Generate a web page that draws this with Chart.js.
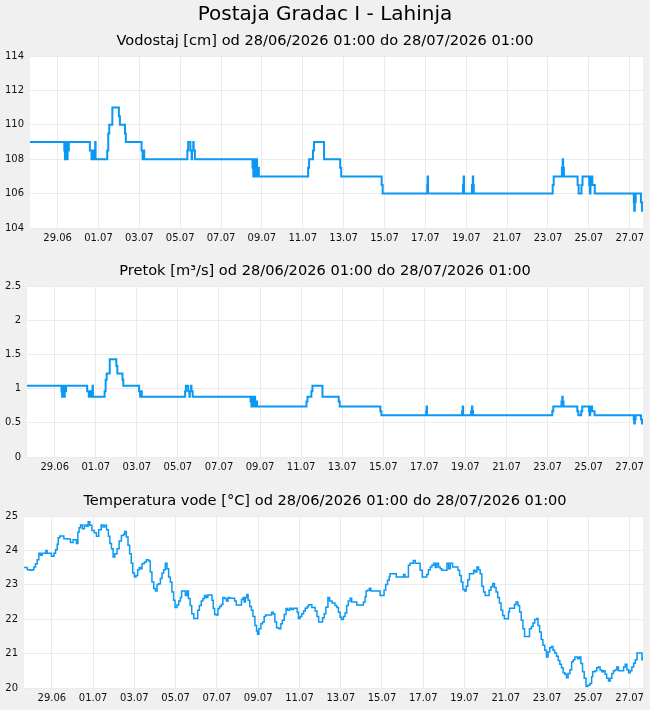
<!DOCTYPE html>
<html>
<head>
<meta charset="utf-8">
<title>Postaja Gradac I - Lahinja</title>
<script src="https://cdn.jsdelivr.net/npm/chart.js@4.4.1/dist/chart.umd.min.js"></script>
<style>
    html, body { margin: 0; padding: 0; background: #f0f0f0; }
    #wrap { position: relative; width: 650px; height: 710px; overflow: hidden; }
    #wrap canvas { position: absolute; left: 0; }
</style>
</head>
<body>
<div id="wrap">
    <canvas id="level-chart" width="650" height="250" style="top:0px"></canvas>
    <canvas id="flow-chart" width="650" height="230" style="top:250px"></canvas>
    <canvas id="temp-chart" width="650" height="230" style="top:480px"></canvas>
</div>
<script>
// Time axis: days counted from 29.06 00:00
const xMin = -1.35;
const xMax = 28.65;
const tickDays = [0, 2, 4, 6, 8, 10, 12, 14, 16, 18, 20, 22, 24, 26, 28];
const tickLabels = ['29.06', '01.07', '03.07', '05.07', '07.07', '09.07', '11.07', '13.07',
    '15.07', '17.07', '19.07', '21.07', '23.07', '25.07', '27.07'];

// Water level / flow: moments where the reading changes
const levelDays = [-1.35, 0.33, 0.36, 0.38, 0.42, 0.47, 0.49, 0.55, 1.58, 1.66,
    1.68, 1.75, 1.84, 1.86, 2.43, 2.48, 2.53, 2.68, 3.00, 3.05,
    3.30, 3.34, 4.11, 4.16, 4.18, 4.24, 6.35, 6.39, 6.50, 6.56,
    6.58, 6.64, 6.66, 6.72, 9.54, 9.58, 9.60, 9.64, 9.66, 9.70,
    9.72, 9.76, 9.78, 9.85, 12.26, 12.31, 12.50, 12.55, 13.04, 13.83,
    13.88, 15.86, 15.91, 18.09, 18.11, 18.13, 19.84, 19.87, 19.89, 20.28,
    20.32, 20.34, 20.37, 24.23, 24.28, 24.68, 24.72, 24.74, 24.78, 25.45,
    25.50, 25.64, 25.69, 26.02, 26.05, 26.08, 26.10, 26.14, 26.17, 26.29,
    28.20, 28.22, 28.25, 28.29, 28.55, 28.60, 28.65];
const levelValues = [109, 108.5, 108, 108.5, 109, 108, 108.5, 109, 108.5, 108,
    108.5, 108, 109, 108, 108.5, 109.5, 110, 111, 110.5, 110,
    109.5, 109, 108.5, 108, 108.5, 108, 108.5, 109, 108.5, 108,
    108.5, 109, 108.5, 108, 107.5, 107, 108, 107, 108, 107,
    108, 107, 107.5, 107, 107.5, 108, 108.5, 109, 108, 107.5,
    107, 106.5, 106, 106.5, 107, 106, 106.5, 107, 106, 106.5,
    107, 106.5, 106, 106.5, 107, 107.5, 108, 107.5, 107, 106.5,
    106, 106.5, 107, 106.5, 106, 107, 106.5, 107, 106.5, 106,
    105.5, 105, 105.5, 106, 105.5, 105, 105];
const flowValues = [1.04, 0.96, 0.88, 0.96, 1.04, 0.88, 0.96, 1.04, 0.96, 0.88,
    0.96, 0.88, 1.04, 0.88, 0.96, 1.13, 1.22, 1.43, 1.33, 1.22,
    1.13, 1.04, 0.96, 0.88, 0.96, 0.88, 0.96, 1.04, 0.96, 0.88,
    0.96, 1.04, 0.96, 0.88, 0.81, 0.74, 0.88, 0.74, 0.88, 0.74,
    0.88, 0.74, 0.81, 0.74, 0.81, 0.88, 0.96, 1.04, 0.88, 0.81,
    0.74, 0.67, 0.61, 0.67, 0.74, 0.61, 0.67, 0.74, 0.61, 0.67,
    0.74, 0.67, 0.61, 0.67, 0.74, 0.81, 0.88, 0.81, 0.74, 0.67,
    0.61, 0.67, 0.74, 0.67, 0.61, 0.74, 0.67, 0.74, 0.67, 0.61,
    0.55, 0.49, 0.55, 0.61, 0.55, 0.49, 0.49];

// Water temperature
const tempDays = [-1.35, -1.19, -1.06, -0.95, -0.87, -0.79, -0.71, -0.63, -0.55, -0.47,
    -0.35, -0.29, -0.23, -0.10, -0.02, 0.10, 0.18, 0.26, 0.31, 0.39,
    0.50, 0.58, 0.74, 0.90, 1.03, 1.15, 1.19, 1.26, 1.32, 1.39,
    1.48, 1.58, 1.68, 1.76, 1.84, 1.94, 2.06, 2.16, 2.27, 2.39,
    2.48, 2.56, 2.65, 2.74, 2.81, 2.89, 2.97, 3.05, 3.16, 3.26,
    3.37, 3.48, 3.53, 3.61, 3.69, 3.77, 3.85, 3.92, 4.00, 4.08,
    4.16, 4.24, 4.29, 4.37, 4.48, 4.58, 4.69, 4.77, 4.85, 4.94,
    5.02, 5.10, 5.18, 5.26, 5.34, 5.42, 5.50, 5.58, 5.66, 5.74,
    5.82, 5.90, 5.97, 6.06, 6.15, 6.23, 6.29, 6.39, 6.47, 6.55,
    6.62, 6.70, 6.78, 6.88, 7.01, 7.07, 7.15, 7.24, 7.32, 7.40,
    7.48, 7.56, 7.69, 7.76, 7.82, 7.89, 7.97, 8.05, 8.13, 8.21,
    8.29, 8.37, 8.46, 8.54, 8.63, 8.78, 8.86, 8.94, 9.11, 9.19,
    9.27, 9.32, 9.38, 9.45, 9.51, 9.59, 9.67, 9.75, 9.84, 9.92,
    9.97, 10.03, 10.13, 10.21, 10.29, 10.36, 10.57, 10.65, 10.73, 10.81,
    10.89, 11.00, 11.10, 11.17, 11.26, 11.35, 11.43, 11.53, 11.62, 11.71,
    11.82, 11.89, 11.95, 12.03, 12.11, 12.20, 12.28, 12.37, 12.44, 12.52,
    12.60, 12.68, 12.76, 12.85, 12.93, 13.06, 13.12, 13.20, 13.28, 13.38,
    13.46, 13.58, 13.72, 13.81, 13.89, 13.97, 14.03, 14.13, 14.21, 14.29,
    14.37, 14.45, 14.53, 14.70, 14.78, 15.02, 15.10, 15.18, 15.23, 15.31,
    15.39, 15.46, 15.83, 15.91, 16.04, 16.10, 16.18, 16.27, 16.35, 16.39,
    16.64, 16.69, 16.96, 17.04, 17.12, 17.20, 17.28, 17.36, 17.52, 17.61,
    17.77, 17.85, 17.95, 18.09, 18.17, 18.25, 18.34, 18.42, 18.50, 18.58,
    18.66, 18.74, 18.82, 18.90, 19.06, 19.15, 19.23, 19.31, 19.42, 19.60,
    19.68, 19.76, 19.84, 19.92, 20.00, 20.08, 20.16, 20.24, 20.36, 20.44,
    20.52, 20.60, 20.68, 20.76, 20.84, 20.92, 21.00, 21.11, 21.19, 21.28,
    21.37, 21.45, 21.53, 21.61, 21.69, 21.77, 21.85, 21.93, 22.05, 22.13,
    22.18, 22.34, 22.42, 22.50, 22.59, 22.67, 22.75, 22.83, 22.91, 23.07,
    23.15, 23.24, 23.32, 23.40, 23.50, 23.56, 23.64, 23.72, 23.80, 23.89,
    23.97, 24.05, 24.13, 24.21, 24.29, 24.37, 24.46, 24.54, 24.62, 24.70,
    24.78, 24.86, 24.94, 25.02, 25.11, 25.19, 25.27, 25.35, 25.43, 25.48,
    25.56, 25.64, 25.72, 25.80, 25.89, 25.97, 26.08, 26.16, 26.21, 26.33,
    26.41, 26.49, 26.57, 26.65, 26.73, 26.81, 26.89, 26.98, 27.06, 27.14,
    27.22, 27.30, 27.38, 27.46, 27.63, 27.71, 27.79, 27.87, 27.95, 28.03,
    28.11, 28.20, 28.28, 28.36, 28.52, 28.60, 28.65];
const tempValues = [23.50, 23.44, 23.42, 23.44, 23.52, 23.61, 23.73, 23.92, 23.86, 23.92,
    23.92, 24.00, 23.92, 23.92, 23.83, 23.92, 24.02, 24.18, 24.37, 24.42,
    24.42, 24.34, 24.33, 24.23, 24.31, 24.31, 24.20, 24.53, 24.66, 24.74,
    24.63, 24.74, 24.70, 24.83, 24.73, 24.58, 24.51, 24.41, 24.60, 24.74,
    24.68, 24.73, 24.60, 24.41, 24.20, 24.05, 23.81, 23.90, 24.05, 24.27,
    24.43, 24.47, 24.55, 24.39, 24.15, 23.90, 23.63, 23.34, 23.23, 23.27,
    23.44, 23.50, 23.47, 23.61, 23.66, 23.73, 23.69, 23.37, 23.08, 22.89,
    22.82, 23.01, 23.03, 23.18, 23.34, 23.44, 23.63, 23.47, 23.23, 23.08,
    22.79, 22.55, 22.34, 22.41, 22.53, 22.63, 22.82, 22.82, 22.69, 22.82,
    22.60, 22.40, 22.16, 22.02, 22.02, 22.26, 22.40, 22.53, 22.60, 22.69,
    22.63, 22.70, 22.70, 22.55, 22.31, 22.14, 22.12, 22.31, 22.37, 22.43,
    22.63, 22.60, 22.53, 22.63, 22.61, 22.61, 22.53, 22.41, 22.41, 22.57,
    22.63, 22.50, 22.63, 22.72, 22.55, 22.37, 22.26, 22.08, 21.82, 21.66,
    21.56, 21.72, 21.87, 21.92, 22.08, 22.12, 22.12, 22.20, 22.15, 21.92,
    21.75, 21.72, 21.87, 21.97, 22.14, 22.31, 22.26, 22.32, 22.28, 22.32,
    22.32, 22.20, 22.02, 22.08, 22.16, 22.24, 22.32, 22.36, 22.42, 22.42,
    22.34, 22.34, 22.24, 22.08, 21.92, 21.92, 22.04, 22.16, 22.35, 22.63,
    22.53, 22.47, 22.40, 22.34, 22.20, 22.06, 21.99, 22.08, 22.18, 22.40,
    22.53, 22.61, 22.50, 22.50, 22.41, 22.41, 22.50, 22.65, 22.82, 22.84,
    22.90, 22.82, 22.82, 22.69, 22.69, 22.84, 23.01, 23.13, 23.24, 23.32,
    23.32, 23.23, 23.23, 23.30, 23.23, 23.23, 23.57, 23.63, 23.71, 23.63,
    23.63, 23.42, 23.23, 23.23, 23.30, 23.44, 23.52, 23.57, 23.63, 23.50,
    23.63, 23.52, 23.47, 23.42, 23.42, 23.63, 23.47, 23.63, 23.52, 23.52,
    23.42, 23.27, 23.08, 22.86, 22.82, 22.96, 23.15, 23.32, 23.32, 23.42,
    23.37, 23.52, 23.44, 23.32, 22.96, 22.79, 22.69, 22.69, 22.84, 22.94,
    23.04, 22.92, 22.79, 22.63, 22.47, 22.26, 22.11, 22.01, 22.01, 22.21,
    22.32, 22.32, 22.43, 22.50, 22.40, 22.21, 21.97, 21.72, 21.50, 21.50,
    21.72, 21.79, 21.89, 21.99, 22.02, 21.82, 21.63, 21.41, 21.24, 21.10,
    20.90, 21.05, 21.17, 21.21, 21.10, 21.02, 20.92, 20.80, 20.69, 20.59,
    20.44, 20.40, 20.30, 20.42, 20.53, 20.76, 20.82, 20.90, 20.90, 20.85,
    20.90, 20.71, 20.47, 20.28, 20.04, 20.08, 20.13, 20.33, 20.47, 20.50,
    20.59, 20.61, 20.52, 20.47, 20.50, 20.40, 20.28, 20.20, 20.28, 20.42,
    20.50, 20.52, 20.61, 20.50, 20.50, 20.61, 20.69, 20.53, 20.44, 20.50,
    20.61, 20.72, 20.82, 21.02, 21.02, 20.82, 20.90];

const LINE_COLOR = '#0a98f5';
const GRID_COLOR = '#ebebeb';
const TEXT_COLOR = '#111111';
const FONT_FAMILY = '"DejaVu Sans", sans-serif';

Chart.defaults.font.family = FONT_FAMILY;
Chart.defaults.color = TEXT_COLOR;

// White plot area on a grey page
const plotBackground = {
    id: 'plotBackground',
    beforeDraw(chart) {
        const area = chart.chartArea;
        const ctx = chart.ctx;
        ctx.save();
        ctx.fillStyle = '#ffffff';
        ctx.fillRect(area.left, area.top, area.right - area.left, area.bottom - area.top);
        ctx.restore();
    }
};

// Centered heading lines above each plot
const headings = {
    id: 'headings',
    afterDraw(chart, args, opts) {
        const ctx = chart.ctx;
        ctx.save();
        ctx.fillStyle = '#000000';
        ctx.textAlign = 'center';
        ctx.textBaseline = 'alphabetic';
        (opts.lines || []).forEach(function(line) {
            ctx.font = line.size + 'px ' + FONT_FAMILY;
            ctx.fillText(line.text, 325, line.y);
        });
        ctx.restore();
    }
};

function toPoints(days, values) {
    return days.map((d, i) => ({ x: d, y: values[i] }));
}

// Build one of the three panels
function buildChart(canvasId, cfg) {
    return new Chart(document.getElementById(canvasId), {
        type: 'line',
        data: {
            datasets: [{
                data: cfg.points,
                borderColor: LINE_COLOR,
                borderWidth: cfg.lineWidth,
                pointRadius: 0,
                stepped: true,
                fill: false
            }]
        },
        options: {
            responsive: false,
            animation: false,
            layout: {
                padding: { top: cfg.padTop, right: 7, bottom: 0, left: 0 }
            },
            plugins: {
                legend: { display: false },
                tooltip: { enabled: false },
                headings: { lines: cfg.titles }
            },
            scales: {
                x: {
                    type: 'linear',
                    min: xMin,
                    max: xMax,
                    afterBuildTicks: function(scale) {
                        scale.ticks = tickDays.map(v => ({ value: v }));
                    },
                    afterFit: function(scale) {
                        scale.height = cfg.xAxisHeight;
                    },
                    ticks: {
                        autoSkip: false,
                        maxRotation: 0,
                        padding: 4,
                        font: { size: 10 },
                        callback: function(value) {
                            return tickLabels[tickDays.indexOf(value)];
                        }
                    },
                    grid: { color: GRID_COLOR, drawTicks: false },
                    border: { display: false }
                },
                y: {
                    min: cfg.yMin,
                    max: cfg.yMax,
                    afterFit: function(scale) {
                        scale.width = cfg.yAxisWidth;
                    },
                    ticks: {
                        stepSize: cfg.yStep,
                        padding: 6,
                        font: { size: 10 },
                        callback: function(value) {
                            return String(Math.round(value * 100) / 100);
                        }
                    },
                    grid: { color: GRID_COLOR, drawTicks: false },
                    border: { display: false }
                }
            }
        },
        plugins: [plotBackground, headings]
    });
}

buildChart('level-chart', {
    points: toPoints(levelDays, levelValues),
    lineWidth: 2,
    padTop: 56,
    xAxisHeight: 22,
    yAxisWidth: 30,
    yMin: 104, yMax: 114, yStep: 2,
    titles: [
        { text: 'Postaja Gradac I - Lahinja', y: 20, size: 20 },
        { text: 'Vodostaj [cm] od 28/06/2026 01:00 do 28/07/2026 01:00', y: 45, size: 14.6 }
    ]
});

buildChart('flow-chart', {
    points: toPoints(levelDays, flowValues),
    lineWidth: 2,
    padTop: 36,
    xAxisHeight: 23,
    yAxisWidth: 27,
    yMin: 0, yMax: 2.5, yStep: 0.5,
    titles: [
        { text: 'Pretok [m\u00b3/s] od 28/06/2026 01:00 do 28/07/2026 01:00', y: 25, size: 14.6 }
    ]
});

buildChart('temp-chart', {
    points: toPoints(tempDays, tempValues),
    lineWidth: 1.5,
    padTop: 36,
    xAxisHeight: 22,
    yAxisWidth: 24,
    yMin: 20, yMax: 25, yStep: 1,
    titles: [
        { text: 'Temperatura vode [\u00b0C] od 28/06/2026 01:00 do 28/07/2026 01:00', y: 25, size: 14.6 }
    ]
});
</script>
</body>
</html>
